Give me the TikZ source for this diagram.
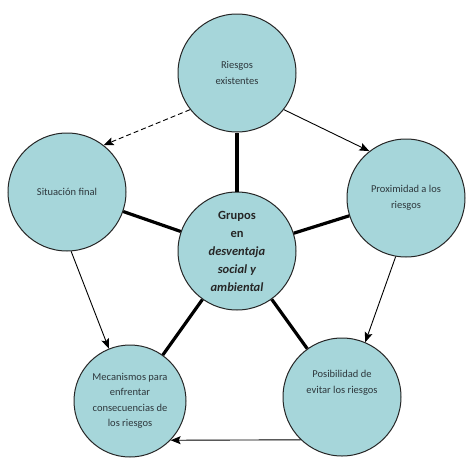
\documentclass[tikz,border=0pt]{standalone}
\usepackage{fontspec}
\setmainfont{Carlito}
\usetikzlibrary{arrows.meta}
\definecolor{circfill}{RGB}{166,214,218}
\definecolor{txt}{RGB}{45,55,60}
\begin{document}
\begin{tikzpicture}[x=1pt,y=-1pt,
  bubble/.style={circle,draw=black!85,line width=1pt,fill=circfill,minimum size=118pt,inner sep=0pt,align=center,text=txt,font=\fontsize{10.5}{15.5}\selectfont},
  hub/.style={line width=3.2pt,black},
  flow/.style={line width=0.9pt,black,-{Stealth[length=10pt,width=8pt,inset=2pt]}}]
\useasboundingbox (0,0) rectangle (474,461);
\node[bubble] (top) at (237,73) {Riesgos\\existentes};
\node[bubble,font=\fontsize{12.5}{18}\selectfont\bfseries,text=black!85] (ctr) at (237,251) {Grupos\\en\\\textit{desventaja}\\\textit{social y}\\\textit{ambiental}};
\node[bubble] (left) at (67,192) {Situación final};
\node[bubble] (right) at (406,198) {Proximidad a los\\riesgos};
\node[bubble,minimum size=112pt] (bl) at (130,401) {Mecanismos para\\enfrentar\\consecuencias de\\los riesgos};
\node[bubble] (br) at (342,397) {Posibilidad de\\evitar los riesgos\\[15pt]\mbox{}};
\draw[hub] (ctr) -- (top);
\draw[hub] (ctr) -- (left);
\draw[hub] (ctr) -- (right);
\draw[hub] (ctr) -- (bl);
\draw[hub] (ctr) -- (br);
\draw[flow] (top.-38) -- (right.128);
\draw[flow] (right.-100) -- (br.67);
\draw[flow] (br.226) -- (bl.-44);
\draw[flow] (left.-86) -- (bl.112);
\draw[flow,dashed,dash pattern=on 5pt off 3pt] (top.-142) -- (left.52);
\end{tikzpicture}
\end{document}
